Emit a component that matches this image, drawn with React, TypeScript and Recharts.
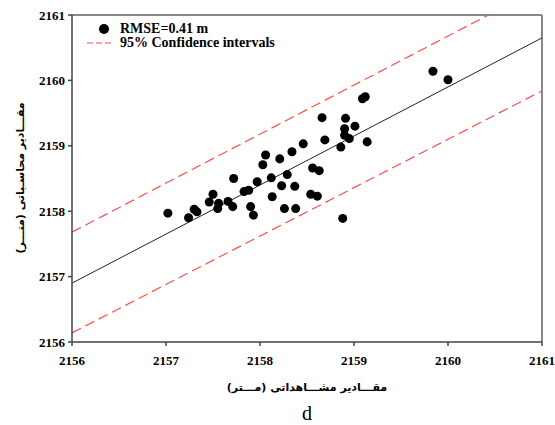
import { ScatterChart, Scatter, XAxis, YAxis, ReferenceLine } from 'recharts'

// observed (x) vs computed (y) elevations, metres
const observed = [
  2157.02, 2157.24, 2157.30, 2157.33, 2157.46, 2157.50, 2157.56, 2157.55, 2157.66, 2157.71,
  2157.72, 2157.83, 2157.88, 2157.90, 2157.93, 2157.97, 2158.03, 2158.06, 2158.12, 2158.13,
  2158.21, 2158.23, 2158.26, 2158.29, 2158.34, 2158.37, 2158.38, 2158.46, 2158.54, 2158.56,
  2158.61, 2158.63, 2158.66, 2158.69, 2158.86, 2158.88, 2158.90, 2158.90, 2158.91, 2158.95,
  2159.01, 2159.09, 2159.12, 2159.14, 2159.84, 2160.00,
]
const computed = [
  2157.97, 2157.90, 2158.03, 2157.99, 2158.14, 2158.26, 2158.12, 2158.04, 2158.15, 2158.07,
  2158.50, 2158.30, 2158.32, 2158.07, 2157.94, 2158.45, 2158.71, 2158.86, 2158.51, 2158.22,
  2158.80, 2158.39, 2158.04, 2158.56, 2158.91, 2158.38, 2158.04, 2159.03, 2158.26, 2158.66,
  2158.23, 2158.62, 2159.43, 2159.09, 2158.98, 2157.89, 2159.26, 2159.16, 2159.42, 2159.11,
  2159.30, 2159.72, 2159.75, 2159.06, 2160.14, 2160.01,
]
const points = observed.map((x, i) => ({ x, y: computed[i] }))

const fitLine = [{ x: 2156, y: 2156.9 }, { x: 2161, y: 2160.65 }]
const upperCI = [{ x: 2156, y: 2157.68 }, { x: 2160.43, y: 2161 }]
const lowerCI = [{ x: 2156, y: 2156.14 }, { x: 2161, y: 2159.84 }]

const ticks = [2156, 2157, 2158, 2159, 2160, 2161]

const xTitle = 'مقـــادیر مشـــاهداتی (مـــتر)'
const yTitle = 'مقـــادیر محاسـباتی (متـــر)'

const serif = "'Liberation Serif', 'Times New Roman', serif"
const tickStyle = { fill: '#000', fontSize: 13, fontWeight: 'bold', fontFamily: serif }

function LegendBox() {
  return (
    <div
      style={{
        position: 'absolute', left: 84, top: 22,
        fontFamily: serif, fontWeight: 'bold', fontSize: 14, color: '#000', lineHeight: '14px',
      }}
    >
      <div style={{ display: 'flex', alignItems: 'center', height: 14 }}>
        <svg width={36} height={12}>
          <circle cx={20} cy={6} r={5} fill="#000" />
        </svg>
        <span>RMSE=0.41 m</span>
      </div>
      <div style={{ display: 'flex', alignItems: 'center', height: 14 }}>
        <svg width={36} height={12}>
          <line x1={3} y1={6} x2={28} y2={6} stroke="#ff4d4d" strokeWidth={1.2} strokeDasharray="6 3" />
        </svg>
        <span>95% Confidence intervals</span>
      </div>
    </div>
  )
}

export default function App() {
  return (
    <div style={{ position: 'absolute', left: 0, top: 0, width: 555, height: 425, background: '#fff', fontFamily: serif }}>
      <ScatterChart width={555} height={425} margin={{ top: 15, right: 13, left: 22, bottom: 53 }}>
        <XAxis
          type="number"
          dataKey="x"
          domain={[2156, 2161]}
          ticks={ticks}
          height={30}
          stroke="#444"
          strokeWidth={1.5}
          tickSize={4}
          tickMargin={10}
          tick={tickStyle}
          allowDataOverflow
        />
        <YAxis
          type="number"
          dataKey="y"
          domain={[2156, 2161]}
          ticks={ticks}
          width={50}
          stroke="#444"
          strokeWidth={1.5}
          tickSize={4}
          tickMargin={3}
          tick={tickStyle}
          allowDataOverflow
        />
        <ReferenceLine y={2161} stroke="#888" strokeWidth={2} />
        <ReferenceLine x={2161} stroke="#888" strokeWidth={2} />
        <ReferenceLine segment={fitLine} stroke="#222" strokeWidth={1} />
        <ReferenceLine segment={upperCI} stroke="#ff4d4d" strokeWidth={1.2} strokeDasharray="10 5" />
        <ReferenceLine segment={lowerCI} stroke="#ff4d4d" strokeWidth={1.2} strokeDasharray="10 5" />
        <Scatter data={points} fill="#000" shape="circle" isAnimationActive={false} />
      </ScatterChart>
      <LegendBox />
      <div
        style={{
          position: 'absolute', left: 307, top: 387, transform: 'translate(-50%, -50%)',
          fontFamily: 'DejaVu Sans', fontWeight: 'bold', fontSize: 11, whiteSpace: 'nowrap', direction: 'rtl',
        }}
      >
        {xTitle}
      </div>
      <div
        style={{
          position: 'absolute', left: 20, top: 178, transform: 'translate(-50%, -50%) rotate(-90deg)',
          fontFamily: 'DejaVu Sans', fontWeight: 'bold', fontSize: 11, whiteSpace: 'nowrap', direction: 'rtl',
        }}
      >
        {yTitle}
      </div>
      <div
        style={{
          position: 'absolute', left: 307, top: 413, transform: 'translate(-50%, -50%)',
          fontFamily: serif, fontSize: 20,
        }}
      >
        d
      </div>
    </div>
  )
}
